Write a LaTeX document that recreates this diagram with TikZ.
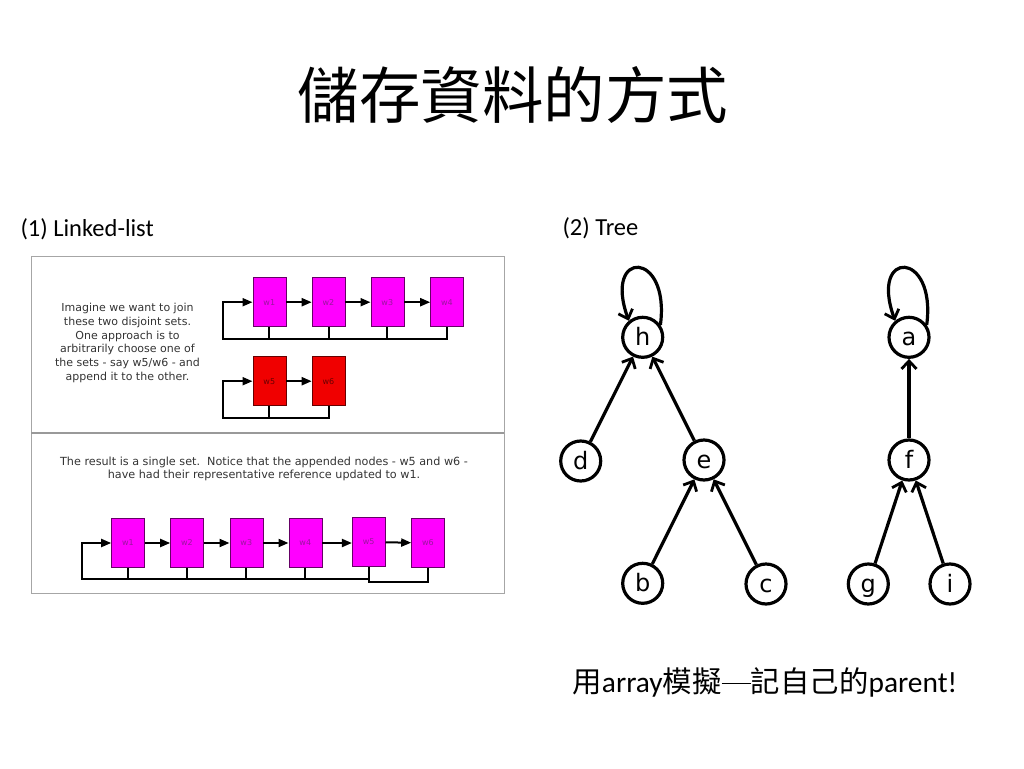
\documentclass[tikz,border=0pt]{standalone}
\usepackage{fontspec}
\setmainfont{Carlito}
\newfontfamily\cjk{Noto Sans CJK TC}
\newfontfamily\dv{DejaVu Sans}
\usetikzlibrary{arrows.meta,calc}
\definecolor{mag}{HTML}{FF00FF}
\definecolor{redbox}{HTML}{F00000}
\definecolor{lbl}{HTML}{99169E}
\definecolor{txt}{HTML}{333333}
\begin{document}
\begin{tikzpicture}[x=1pt,y=-1pt,
  mbox/.style={draw=black!60!mag,line width=0.6pt,fill=mag,minimum width=33pt,minimum height=49pt,inner sep=0pt,font=\dv\fontsize{8}{9}\selectfont,text=lbl},
  rbox/.style={mbox,fill=redbox,draw=black!60!red,text=black!60!red},
  ln/.style={line width=2pt,black},
  arr/.style={ln,-{Triangle[length=10pt,width=8pt]}},
  tn/.style={circle,draw,line width=3.2pt,minimum size=40pt,inner sep=0pt,text height=18pt,text depth=1.5pt,font=\dv\fontsize{24}{26}\selectfont},
  te/.style={line width=3.2pt,-{Straight Barb[length=8pt,width=15pt,line width=2.8pt]}},
  ptxt/.style={align=center,text=txt,font=\dv\fontsize{11}{13.7}\selectfont}
]
\useasboundingbox (0,0) rectangle (1024,768);
% title
\node[font=\cjk\fontsize{61.5}{64}\selectfont] (title) at (513,95) {儲存資料的方式};
\node[anchor=west,font=\fontsize{24.5}{28}\selectfont] (lab1) at (17,229) {(1) Linked-list};
\node[anchor=west,font=\fontsize{24.5}{28}\selectfont] (lab2) at (559,228) {(2) Tree};
% panel
\draw[black!35,line width=1pt] (31,256) rectangle (504,593);
\draw[black!40,line width=1.6pt] (31,433) -- (504,433);
\node[ptxt] (p1) at (127.5,343) {Imagine we want to join\\these two disjoint sets.\\One approach is to\\arbitrarily choose one of\\the sets - say w5/w6 - and\\append it to the other.};
\node[ptxt,font=\dv\fontsize{11.2}{13}\selectfont] (p2) at (264,468.7) {The result is a single set.\ \ Notice that the appended nodes - w5 and w6 -\\have had their representative reference updated to w1.};
% top set
\node[mbox] (t1) at (269.3,302.2) {w1};
\node[mbox] (t2) at (328.5,302.2) {w2};
\node[mbox] (t3) at (387.3,302.2) {w3};
\node[mbox] (t4) at (447,302.2) {w4};
\draw[arr] (t1) -- (t2);
\draw[arr] (t2) -- (t3);
\draw[arr] (t3) -- (t4);
\coordinate (L1) at (222.7,339);
\draw[arr] (t4.south) |- (L1) |- (t1.west);
\draw[ln] (t1.south) -- (t1.south |- L1);
\draw[ln] (t2.south) -- (t2.south |- L1);
\draw[ln] (t3.south) -- (t3.south |- L1);
% second set
\node[rbox] (t5) at (269.3,381.2) {w5};
\node[rbox] (t6) at (328.5,381.2) {w6};
\draw[arr] (t5) -- (t6);
\coordinate (L2) at (222.7,418.3);
\draw[arr] (t6.south) |- (L2) |- (t5.west);
\draw[ln] (t5.south) -- (t5.south |- L2);
% result
\node[mbox] (b1) at (128,543) {w1};
\node[mbox] (b2) at (187,543) {w2};
\node[mbox] (b3) at (246.3,543) {w3};
\node[mbox] (b4) at (305.3,543) {w4};
\node[mbox] (b5) at (368.7,542) {w5};
\node[mbox] (b6) at (428,543) {w6};
\draw[arr] (b1) -- (b2);
\draw[arr] (b2) -- (b3);
\draw[arr] (b3) -- (b4);
\draw[arr] (b4.east) -- (b5.west |- b4.east);
\draw[arr] (b5) -- (b6);
\coordinate (L3) at (81.7,579);
\draw[arr] (b5.south) |- (L3) |- (b1.west);
\draw[ln] (b1.south) -- (b1.south |- L3);
\draw[ln] (b2.south) -- (b2.south |- L3);
\draw[ln] (b3.south) -- (b3.south |- L3);
\draw[ln] (b4.south) -- (b4.south |- L3);
\path (b5.south) ++(0,15.3) coordinate (L4);
\draw[ln] (b6.south) |- (L4) -- (b5.south);
% trees
\node[tn] (h) at (642.7,337.3) {h};
\node[tn] (d) at (580.7,461) {d};
\node[tn] (e) at (704,460) {e};
\node[tn] (b) at (642.7,583.3) {b};
\node[tn] (c) at (766,584) {c};
\node[tn] (a) at (909,337.3) {a};
\node[tn] (f) at (909,460) {f};
\node[tn] (g) at (868.3,584) {g};
\node[tn] (i) at (950,584) {i};
\draw[te] (d) -- (h);
\draw[te] (e) -- (h);
\draw[te] (b) -- (e);
\draw[te] (c) -- (e);
\draw[te] (g) -- (f);
\draw[te] (i) -- (f);
\draw[te] (f) -- (a);
\draw[te] (h.35) .. controls +(10,-75) and +(-26,-72) .. (h.130);
\draw[te] (a.35) .. controls +(10,-75) and +(-26,-72) .. (a.130);
% bottom text
\node[anchor=west,font=\fontsize{29.4}{32}\selectfont] (note) at (569,682) {{\cjk 用}array{\cjk 模擬}\rule[0.27em]{1em}{0.05em}{\cjk 記自己的}parent!};
\end{tikzpicture}
\end{document}
